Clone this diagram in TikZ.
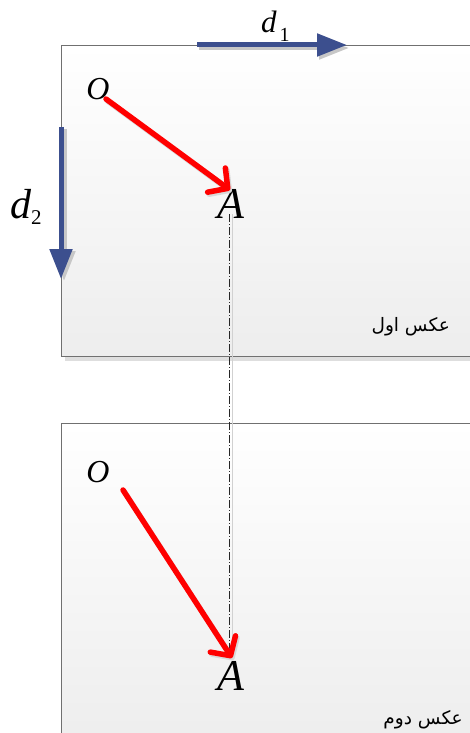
\documentclass[tikz,border=0pt]{standalone}
\usepackage{fontspec}
\setmainfont{Liberation Serif}
\newfontfamily\arabicfont[Script=Arabic]{DejaVu Sans}
\TeXXeTstate=1
\usetikzlibrary{arrows.meta}
\definecolor{axisblue}{HTML}{3C4F8E}
\definecolor{boxline}{HTML}{707070}
\definecolor{vecred}{HTML}{FF0000}
\tikzset{
  boxfill/.style={top color=white,bottom color=black!7},
  boxshadow/.style={fill=black!13},
  boxborder/.style={draw=boxline,line width=0.9pt},
  axisarrow/.style={axisblue,line width=5pt,-{Triangle[length=30pt,width=22pt]}},
  axisshadow/.style={black!22,line width=5pt,-{Triangle[length=30pt,width=22pt]}},
  vecarrow/.style={vecred,line width=5.5pt,line cap=round,-{Straight Barb[length=14pt,width=30pt,round]}},
  vecshadow/.style={black!15,line width=5.5pt,line cap=round,-{Straight Barb[length=14pt,width=30pt,round]}},
  pt/.style={inner sep=0pt,anchor=base,font=\fontsize{32}{33}\selectfont\itshape},
  ptA/.style={inner sep=0pt,anchor=base,font=\fontsize{44}{46}\selectfont\itshape},
  caption/.style={inner sep=0pt,anchor=base,font=\arabicfont\fontsize{18.5}{21}\selectfont},
  guide/.style={black!85,line width=0.7pt,dash pattern=on 8pt off 2pt on 1pt off 2pt},
  guideshadow/.style={black!18,line width=0.8pt}
}
\begin{document}
\begin{tikzpicture}[x=1pt,y=-1pt]
\useasboundingbox (0,0) rectangle (470,733);
\clip (0,0) rectangle (470,733);

% first picture frame
\fill[boxshadow] (65,50) rectangle (480,361);
\fill[boxfill] (61,45) rectangle (480,356);
\draw[boxborder] (480,45) -- (61,45) -- (61,356) -- (480,356);

% second picture frame
\fill[boxshadow] (65,428) rectangle (480,745);
\fill[boxfill] (61,423) rectangle (480,745);
\draw[boxborder] (480,423) -- (61,423) -- (61,745);

% vertical guide
\coordinate (g1) at (229,214);
\coordinate (g2) at (229,656);
\draw[guideshadow] ([xshift=3pt]g1) -- ([xshift=3pt]g2);
\draw[guide] (g1) -- (g2);

% axis arrows
\coordinate (d1s) at (197,45);
\coordinate (d1e) at (347,45);
\coordinate (d2s) at (61,127);
\coordinate (d2e) at (61,279);
\draw[axisshadow] ([shift={(2pt,-3pt)}]d1s) -- ([shift={(2pt,-3pt)}]d1e);
\draw[axisarrow] (d1s) -- (d1e);
\draw[axisshadow] ([shift={(3pt,-2pt)}]d2s) -- ([shift={(3pt,-2pt)}]d2e);
\draw[axisarrow] (d2s) -- (d2e);

\node[inner sep=0pt,anchor=base west] (d1lab) at (261,33)
  {\fontsize{31}{32}\selectfont\itshape d\hspace{3pt}\raisebox{-9pt}{\upshape\fontsize{20}{20}\selectfont 1}};
\node[inner sep=0pt,anchor=base west] (d2lab) at (10,218)
  {\fontsize{42}{44}\selectfont\itshape d\hspace{0pt}\raisebox{-6pt}{\upshape\fontsize{21}{21}\selectfont 2}};

% first picture vectors
\node[pt] (O1) at (98,100) {O};
\node[ptA] (A1) at (231,218) {A};
\coordinate (v1s) at (106,99);
\coordinate (v1e) at (230,190);
\draw[vecshadow] ([shift={(1.5pt,-2pt)}]v1s) -- ([shift={(1.5pt,-2pt)}]v1e);
\draw[vecarrow] (v1s) -- (v1e);

% second picture vectors
\node[pt] (O2) at (98,482) {O};
\node[ptA] (A2) at (231,690) {A};
\coordinate (v2s) at (123,490);
\coordinate (v2e) at (232,658);
\draw[vecshadow] ([shift={(1.5pt,-2pt)}]v2s) -- ([shift={(1.5pt,-2pt)}]v2e);
\draw[vecarrow] (v2s) -- (v2e);

% captions
\node[caption,anchor=base east] (cap1) at (450,331) {\beginR عکس اول\endR};
\node[caption,anchor=base east] (cap2) at (463,724) {\beginR عکس دوم\endR};
\end{tikzpicture}
\end{document}
